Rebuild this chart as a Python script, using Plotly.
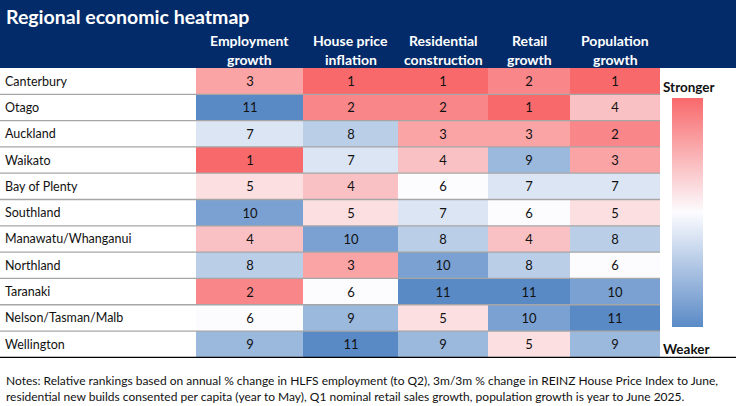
import plotly.graph_objects as go

regions = ["Canterbury", "Otago", "Auckland", "Waikato", "Bay of Plenty", "Southland",
           "Manawatu/Whanganui", "Northland", "Taranaki", "Nelson/Tasman/Malb", "Wellington"]
header_top = ["Employment", "House price", "Residential", "Retail", "Population"]
header_bottom = ["growth", "inflation", "construction", "growth", "growth"]

# rankings, 1 = strongest
employment = [3, 11, 7, 1, 5, 10, 4, 8, 2, 6, 9]
house_price = [1, 2, 8, 7, 4, 5, 10, 3, 6, 9, 11]
residential = [1, 2, 3, 4, 6, 7, 8, 10, 11, 5, 9]
retail = [2, 1, 3, 9, 7, 6, 4, 8, 11, 10, 5]
population = [1, 4, 2, 3, 7, 5, 8, 6, 10, 11, 9]

notes = ("Notes: Relative rankings based on annual % change in HLFS employment (to Q2), 3m/3m % change in REINZ House Price Index to June,<br>"
         "residential new builds consented per capita (year to May), Q1 nominal retail sales growth, population growth is year to June 2025.")

FONT = "Lato, Open Sans, sans-serif"
NAVY = "#032b69"

cols = [employment, house_price, residential, retail, population]
ranks = [[c[i] for c in cols] for i in range(len(regions))]
strength = [[-v for v in row] for row in ranks]

# column widths in px, matching the reference layout
col_w = [107, 95, 90, 82, 90]
edges = [0]
for w in col_w:
    edges.append(edges[-1] + w)
centers = [(edges[i] + edges[i + 1]) / 2 for i in range(len(col_w))]

W, H = 736, 406
L, R, T, B = 196, W - 196 - edges[-1], 68, 48
pw, ph = W - L - R, H - T - B


def px(x):
    return (x - L) / pw


def py(y):
    return (H - B - y) / ph


fig = go.Figure(go.Heatmap(
    z=strength, x=edges, y=regions, text=ranks, texttemplate="%{text}",
    textfont=dict(family=FONT, size=13, color="#111"),
    zmin=-11, zmax=-1,
    colorscale=[[0, "#5a8ac6"], [0.5, "#fcfcff"], [1, "#f8696b"]],
    hoverinfo="skip",
    colorbar=dict(x=px(672), xanchor="left", thickness=31, thicknessmode="pixels",
                  len=229, lenmode="pixels", y=py(212.5), yanchor="middle",
                  outlinewidth=0, showticklabels=False, ticks="", xpad=0, ypad=0),
))

shapes = [dict(type="rect", xref="paper", yref="paper", x0=px(0), x1=px(W), y0=1, y1=py(0),
               fillcolor=NAVY, line=dict(width=0), layer="below")]
for i in range(len(regions) - 1):
    shapes.append(dict(type="line", xref="paper", yref="y", x0=px(0), x1=1, y0=i + 0.5, y1=i + 0.5,
                       line=dict(color="#a6a6a6", width=1.3)))
shapes.append(dict(type="line", xref="paper", yref="y", x0=px(0), x1=px(W),
                   y0=len(regions) - 0.5, y1=len(regions) - 0.5, line=dict(color="#000", width=1.3)))

annotations = [dict(xref="paper", yref="y", x=px(3), y=r, text=r, showarrow=False, xanchor="left",
                    font=dict(family=FONT, size=12.5, color="#111")) for r in regions]
for c, top, bottom in zip(centers, header_top, header_bottom):
    annotations.append(dict(xref="x", yref="paper", x=c, y=py(40), text=top, showarrow=False,
                            yanchor="middle", font=dict(family=FONT, size=14, color="white", weight="bold")))
    annotations.append(dict(xref="x", yref="paper", x=c, y=py(60), text=bottom, showarrow=False,
                            yanchor="middle", font=dict(family=FONT, size=14, color="white", weight="bold")))
annotations += [
    dict(xref="paper", yref="paper", x=px(4), y=py(16), text="<b>Regional economic heatmap</b>",
         showarrow=False, xanchor="left", yanchor="middle", font=dict(family=FONT, size=19.5, color="white")),
    dict(xref="paper", yref="paper", x=px(661), y=py(87), text="<b>Stronger</b>", showarrow=False,
         xanchor="left", yanchor="middle", font=dict(family=FONT, size=13.5, color="#111")),
    dict(xref="paper", yref="paper", x=px(661), y=py(349), text="<b>Weaker</b>", showarrow=False,
         xanchor="left", yanchor="middle", font=dict(family=FONT, size=13.5, color="#111")),
    dict(xref="paper", yref="paper", x=px(4), y=py(388), text=notes, showarrow=False,
         xanchor="left", yanchor="middle", align="left", font=dict(family=FONT, size=12, color="#111")),
]

fig.update_layout(
    width=W, height=H, margin=dict(l=L, r=R, t=T, b=B),
    paper_bgcolor="white", plot_bgcolor="white",
    shapes=shapes, annotations=annotations,
    xaxis=dict(range=[0, edges[-1]], showticklabels=False, ticks="", showgrid=False, zeroline=False),
    yaxis=dict(autorange="reversed", showticklabels=False, ticks="", showgrid=False, zeroline=False),
)

fig.write_html("out.html", config={"displayModeBar": False},
               post_script="document.body.style.margin='0';")
